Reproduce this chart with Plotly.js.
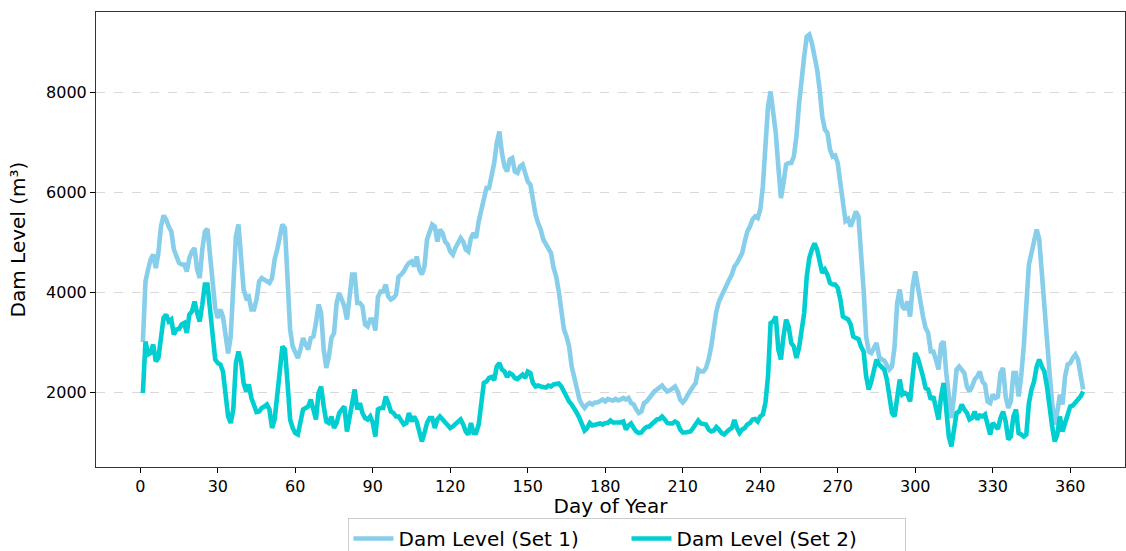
<!DOCTYPE html>
<html>
<head>
<meta charset="utf-8">
<script src="https://cdn.plot.ly/plotly-3.0.1.min.js"></script>
<style>
  html, body { margin: 0; padding: 0; background: #fff; }
  #chart { width: 1126px; height: 551px; }
</style>
</head>
<body>
<div id="chart"></div>
<script>
// Daily dam storage readings, days 1-365
const setOneLevels = [
  3000,4210,4450,4650,4750,4480,4780,5310,5530,5450,5310,5210,4850,4710,4580,4550,4550,4410,4680,4810,
  4880,4450,4280,4850,5210,5260,4710,4110,3680,3480,3650,3510,3110,2770,3110,4250,5110,5350,4710,4050,
  3880,3910,3650,3650,3850,4210,4280,4250,4210,4180,4280,4650,4850,5110,5350,5280,4380,3250,2910,2780,
  2680,2850,3080,2950,2850,3080,3110,3380,3750,3580,2850,2480,2710,3080,3180,3780,3980,3850,3710,3450,
  4010,4350,4350,3780,3780,3710,3350,3310,3450,3450,3230,3900,4010,4010,4150,3910,3850,3880,3950,4310,
  4350,4410,4510,4580,4610,4510,4710,4450,4350,4510,5050,5210,5350,5310,5010,5250,5180,5010,4950,4810,
  4750,4880,5010,5080,5010,4850,4810,5080,5180,5080,5410,5650,5850,6080,6080,6310,6580,6980,7210,6780,
  6510,6410,6650,6680,6410,6380,6510,6550,6410,6210,6150,5780,5550,5380,5250,5050,4950,4850,4780,4480,
  4310,4010,3580,3250,3110,2910,2510,2280,2050,1850,1750,1680,1750,1780,1750,1790,1790,1810,1850,1810,
  1860,1840,1830,1860,1830,1850,1880,1850,1880,1780,1750,1650,1580,1610,1780,1810,1880,1950,2010,2050,
  2080,2130,2060,2010,2030,2080,2110,2010,1850,1790,1850,1950,2050,2110,2180,2450,2410,2410,2480,2650,
  2910,3280,3610,3810,3930,4050,4180,4250,4350,4510,4580,4710,4780,5010,5210,5310,5450,5510,5480,5650,
  6110,6910,7710,8010,7580,7180,6510,5880,6180,6550,6580,6580,6710,7110,7750,8350,8710,9110,9150,8980,
  8710,8450,8050,7510,7250,7180,6850,6710,6730,6580,6180,5710,5420,5460,5310,5450,5610,5510,4850,4050,
  3110,2810,2780,2910,2980,2710,2650,2630,2550,2450,2510,2910,3780,4050,3710,3650,3810,3510,4110,4410,
  4110,3780,3510,3280,3180,2810,2810,2650,2450,2950,3010,2380,1850,1480,1910,2450,2510,2450,2380,2110,
  2010,2110,2250,2310,2410,2210,2150,1810,1780,1950,1880,1910,2380,2480,1910,1680,1810,2380,2380,1910,
  2310,2910,3650,4550,4780,4980,5250,5050,4310,3710,3050,2380,1780,1350,1600,1950,1750,2310,2550,2580,
  2680,2750,2650,2310,2050
];

const setTwoLevels = [
  1980,3010,2750,2780,2950,2610,2680,3110,3480,3550,3410,3450,3150,3250,3260,3350,3380,3180,3550,3610,
  3810,3580,3410,3750,4150,4150,3710,3180,2650,2580,2550,2410,1980,1510,1380,1650,2580,2810,2610,2180,
  2010,2150,1880,1710,1600,1610,1680,1710,1750,1650,1280,1450,1850,2410,2910,2850,2180,1450,1280,1180,
  1150,1380,1650,1680,1710,1850,1650,1450,1980,2110,1710,1410,1380,1510,1280,1380,1580,1650,1710,1210,
  1510,1880,2050,1650,1780,1580,1480,1450,1510,1380,1110,1650,1680,1680,1910,1780,1610,1580,1510,1510,
  1410,1350,1380,1580,1410,1510,1410,1180,1010,1180,1380,1480,1480,1280,1450,1510,1450,1410,1350,1280,
  1310,1350,1410,1450,1350,1210,1150,1380,1180,1180,1350,1780,2180,2210,2280,2300,2240,2510,2580,2450,
  2410,2300,2380,2350,2280,2260,2310,2350,2280,2410,2380,2180,2110,2130,2110,2110,2090,2130,2110,2150,
  2150,2170,2110,2010,1880,1810,1750,1680,1580,1480,1380,1230,1280,1380,1330,1350,1350,1370,1350,1380,
  1380,1430,1390,1390,1380,1390,1410,1250,1330,1370,1280,1210,1180,1190,1260,1300,1310,1350,1410,1450,
  1460,1510,1450,1380,1370,1370,1410,1380,1250,1190,1190,1210,1210,1280,1350,1430,1370,1350,1350,1250,
  1210,1230,1300,1250,1180,1150,1210,1250,1280,1440,1280,1180,1250,1280,1350,1380,1450,1460,1410,1510,
  1550,1780,2310,3380,3410,3510,2850,2650,3110,3450,3310,2980,2910,2680,2880,3180,3580,4310,4680,4850,
  4970,4850,4650,4380,4450,4350,4180,4150,4150,4080,3850,3510,3480,3450,3350,3110,3080,3060,2910,2810,
  2310,2050,2210,2480,2650,2550,2510,2450,2250,1910,1580,1510,1910,2250,1950,1980,1950,1810,2310,2780,
  2680,2510,2310,2080,2050,1850,1910,1680,1450,1910,2180,1650,1110,910,1250,1580,1610,1750,1650,1580,
  1450,1480,1610,1450,1530,1510,1550,1310,1150,1380,1330,1260,1480,1610,1410,1050,1110,1510,1650,1180,
  1150,1110,1150,1780,2050,2210,2510,2650,2510,2410,2110,1650,1310,1010,1150,1510,1210,1380,1580,1710,
  1730,1810,1850,1910,2010
];

const days = setOneLevels.map((_, i) => i + 1);

const seriesNames = ['Dam Level (Set 1)', 'Dam Level (Set 2)'];
const xTickValues = [0, 30, 60, 90, 120, 150, 180, 210, 240, 270, 300, 330, 360];
const yTickValues = [2000, 4000, 6000, 8000];

const font = 'DejaVu Sans, Liberation Sans, sans-serif';

const traces = [
  {
    x: days, y: setOneLevels, name: seriesNames[0],
    type: 'scatter', mode: 'lines',
    line: { color: '#87CEEB', width: 4.6 }
  },
  {
    x: days, y: setTwoLevels, name: seriesNames[1],
    type: 'scatter', mode: 'lines',
    line: { color: '#00CED1', width: 4.6 }
  }
];

const layout = {
  width: 1126,
  height: 551,
  margin: { l: 96, r: 1, t: 12, b: 84 },
  paper_bgcolor: '#ffffff',
  plot_bgcolor: '#ffffff',
  font: { family: font, size: 16, color: '#000' },
  showlegend: true,
  legend: {
    orientation: 'h',
    xref: 'container', yref: 'container',
    x: 0.5564, xanchor: 'center',
    y: 0.0599, yanchor: 'top',
    bordercolor: '#cccccc', borderwidth: 1,
    bgcolor: '#ffffff',
    font: { family: font, size: 20, color: '#000' },
    itemwidth: 40,
    entrywidth: 223,
    tracegroupgap: 0
  },
  xaxis: {
    range: [-17.15, 381.2],
    tickvals: xTickValues,
    ticks: 'outside', ticklen: 5, tickwidth: 1, tickcolor: '#000',
    showgrid: false, zeroline: false,
    showline: true, mirror: true, linecolor: '#333', linewidth: 1,
    tickfont: { family: font, size: 16, color: '#000' },
    title: { text: 'Day of Year', font: { family: font, size: 20, color: '#000' }, standoff: 8 }
  },
  yaxis: {
    range: [500, 9600],
    tickvals: yTickValues,
    ticks: 'outside', ticklen: 5, tickwidth: 1, tickcolor: '#000',
    showgrid: true, gridcolor: '#d9d9d9', griddash: 'dash', gridwidth: 1,
    zeroline: false,
    showline: true, mirror: true, linecolor: '#333', linewidth: 1,
    tickfont: { family: font, size: 16, color: '#000' },
    title: { text: 'Dam Level (m³)', font: { family: font, size: 20, color: '#000' }, standoff: 15 }
  }
};

Plotly.newPlot('chart', traces, layout, { displayModeBar: false, staticPlot: true });
</script>
</body>
</html>
